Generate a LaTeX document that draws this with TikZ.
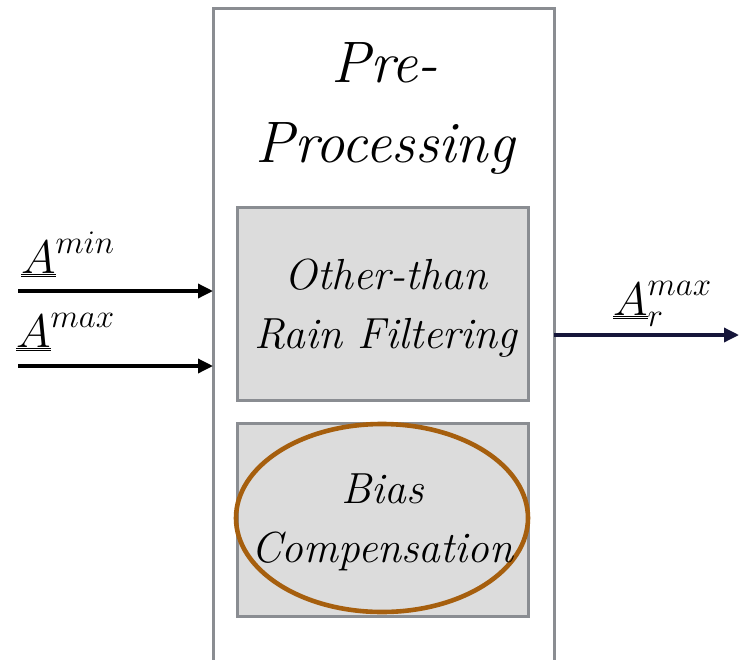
\RequirePackage{fix-cm}
\documentclass[tikz,border=0pt]{standalone}
\usetikzlibrary{arrows.meta,calc}
\definecolor{boxgray}{HTML}{8A8D92}
\definecolor{fillgray}{HTML}{DCDCDC}
\definecolor{ringbrown}{HTML}{A65F0E}
\definecolor{navy}{HTML}{16163A}
\tikzset{
  outerbox/.style={draw=boxgray, line width=3pt, fill=white},
  innerbox/.style={draw=boxgray, line width=3.2pt, fill=fillgray},
  ring/.style={draw=ringbrown, line width=4.6pt},
  sig/.style={line width=3.4pt, -{Triangle[length=15pt,width=14pt]}},
  lbl/.style={inner sep=0pt, anchor=base west, font=\fontsize{47}{52}\selectfont},
  bigtxt/.style={align=center, inner sep=0pt, font=\fontsize{58.5}{80}\selectfont\itshape},
  midtxt/.style={align=center, inner sep=0pt, font=\fontsize{43.5}{59}\selectfont\itshape}
}
\begin{document}
\begin{tikzpicture}[x=1pt,y=-1pt]
\useasboundingbox (0,0) rectangle (739,659);
\clip (0,0) rectangle (739,659);
% outer box (extends below the frame)
\draw[outerbox] (213,8) rectangle (554,720);
\coordinate (outW) at (213,0);
\coordinate (outE) at (554,0);
% inner boxes
\node[innerbox, minimum width=291pt, minimum height=193pt, inner sep=0pt] (filt) at (383,304) {};
\node[innerbox, minimum width=291pt, minimum height=193pt, inner sep=0pt] (bias) at (383,520) {};
% ellipse highlight
\draw[ring] (382,518) ellipse [x radius=146, y radius=94];
% texts
\node[bigtxt] (title) at (385,108) {Pre-\\Processing};
\node[midtxt] (filttxt) at (386,308) {Other-than\\Rain Filtering};
\node[midtxt] (biastxt) at (382.5,522.5) {Bias\\Compensation};
% input signals
\coordinate (in1) at (18,291);
\coordinate (in2) at (18,366);
\draw[sig] (in1) -- (in1 -| outW);
\draw[sig] (in2) -- (in2 -| outW);
\node[lbl] (amin) at (21,273) {$\underline{\underline{A}}^{min}$};
\node[lbl] (amax) at (16,347) {$\underline{\underline{A}}^{max}$};
% output signal
\coordinate (out1) at (554,335);
\coordinate (outend) at (739,335);
\draw[sig, draw=navy, fill=navy] (out1) -- (outend);
\node[lbl] (armax) at (613,315) {$\underline{\underline{A}}_r^{max}$};
\end{tikzpicture}
\end{document}
